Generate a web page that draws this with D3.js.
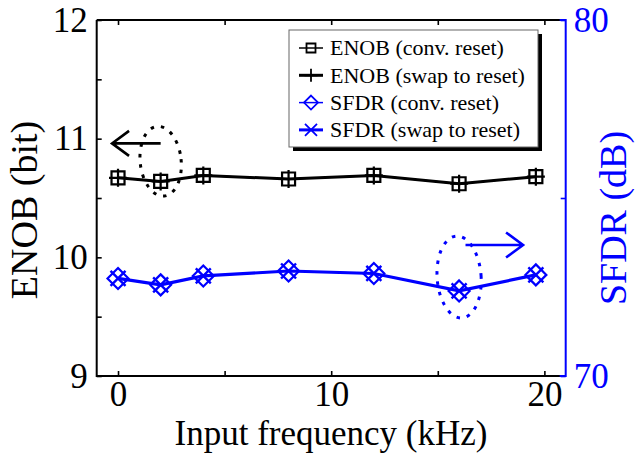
<!DOCTYPE html>
<html>
<head>
<meta charset="utf-8">
<script src="https://cdn.jsdelivr.net/npm/d3@7"></script>
<style>
  html, body { margin: 0; padding: 0; background: #fff; }
  svg { display: block; font-family: "Liberation Serif", "Times New Roman", serif; }
</style>
</head>
<body>
<svg id="chart" width="636" height="453"></svg>
<script>
// Input frequencies (kHz)
const freqs = [0, 2, 4, 8, 12, 16, 19.6];
// ENOB (bit), left axis
const enobConv = [10.67, 10.64, 10.69, 10.66, 10.69, 10.62, 10.68];
const enobSwap = [10.67, 10.64, 10.69, 10.66, 10.69, 10.62, 10.68];
// SFDR (dB), right axis
const sfdrConv = [72.74, 72.56, 72.81, 72.95, 72.88, 72.39, 72.84];
const sfdrSwap = [72.74, 72.56, 72.81, 72.95, 72.88, 72.39, 72.84];

const xTicks = [0, 5, 10, 15, 20];
const xTickLabels = [0, 10, 20];
const yLeftTicks = [9, 9.5, 10, 10.5, 11, 11.5, 12];
const yLeftTickLabels = [9, 10, 11, 12];
const yRightTicks = [70, 75, 80];
const yRightTickLabels = [70, 80];

const legendNames = ["ENOB (conv. reset)", "ENOB (swap to reset)", "SFDR (conv. reset)", "SFDR (swap to reset)"];

const BLUE = "#0000ff";
const svg = d3.select("#chart");

const L = 96.7, R = 565.7, T = 20, B = 376;
const x = d3.scaleLinear().domain([-1, 21]).range([L, R]);
const yL = d3.scaleLinear().domain([9, 12]).range([B, T]);
const yR = d3.scaleLinear().domain([70, 80]).range([B, T]);

const tickFont = 35;

function styleAxis(g, color) {
  g.selectAll(".tick line").attr("stroke", color).attr("stroke-width", 1.6);
  g.selectAll(".tick text").attr("fill", color).style("font-size", tickFont + "px")
    .style("font-family", '"Liberation Serif", serif');
  g.select(".domain").remove();
}

// Bottom axis
const gx = svg.append("g").attr("transform", `translate(0,${B})`)
  .call(d3.axisBottom(x).tickValues(xTicks).tickSizeInner(-5).tickSizeOuter(0).tickPadding(5)
    .tickFormat(d => xTickLabels.includes(d) ? d : ""));
styleAxis(gx, "#000");
// Top mirror ticks
const gxt = svg.append("g").attr("transform", `translate(0,${T})`)
  .call(d3.axisTop(x).tickValues(xTicks).tickSizeInner(-5).tickSizeOuter(0).tickFormat(""));
styleAxis(gxt, "#000");

// Left axis
const gyl = svg.append("g").attr("transform", `translate(${L},0)`)
  .call(d3.axisLeft(yL).tickValues(yLeftTicks).tickSizeInner(-5).tickSizeOuter(0).tickPadding(9)
    .tickFormat(d => yLeftTickLabels.includes(d) ? d : ""));
styleAxis(gyl, "#000");

// Right axis
const gyr = svg.append("g").attr("transform", `translate(${R},0)`)
  .call(d3.axisRight(yR).tickValues(yRightTicks).tickSizeInner(-5).tickSizeOuter(0).tickPadding(8)
    .tickFormat(d => yRightTickLabels.includes(d) ? d : ""));
styleAxis(gyr, BLUE);

// Frame
svg.append("path").attr("d", `M${L},${T}V${B}H${R}M${L},${T}H${R}`)
  .attr("fill", "none").attr("stroke", "#000").attr("stroke-width", 2);
svg.append("path").attr("d", `M${R - 6},${T}H${R}V${B}H${R - 6}`)
  .attr("fill", "none").attr("stroke", BLUE).attr("stroke-width", 2);

// Series lines
const lineL = d3.line().x((d, i) => x(freqs[i])).y(d => yL(d));
const lineR = d3.line().x((d, i) => x(freqs[i])).y(d => yR(d));

svg.append("path").datum(enobConv).attr("d", lineL).attr("fill", "none").attr("stroke", "#000").attr("stroke-width", 1.5);
svg.append("path").datum(enobSwap).attr("d", lineL).attr("fill", "none").attr("stroke", "#000").attr("stroke-width", 3);
svg.append("path").datum(sfdrConv).attr("d", lineR).attr("fill", "none").attr("stroke", BLUE).attr("stroke-width", 1.5);
svg.append("path").datum(sfdrSwap).attr("d", lineR).attr("fill", "none").attr("stroke", BLUE).attr("stroke-width", 3.2);

// Marker shapes
const square = s => `M${-s},${-s}H${s}V${s}H${-s}Z`;
const plus = s => `M${-s},0H${s}M0,${-s}V${s}`;
const diamond = s => `M0,${-s}L${s},0L0,${s}L${-s},0Z`;
const cross = s => `M${-s},${-s}L${s},${s}M${-s},${s}L${s},${-s}`;

function markers(data, yScale, shape, size, color, width) {
  svg.append("g").selectAll("path").data(data).join("path")
    .attr("transform", (d, i) => `translate(${x(freqs[i])},${yScale(d)})`)
    .attr("d", shape(size)).attr("fill", "none").attr("stroke", color).attr("stroke-width", width);
}
markers(enobConv, yL, square, 6.5, "#000", 2.2);
markers(enobSwap, yL, plus, 9, "#000", 2.2);
markers(sfdrConv, yR, diamond, 10.5, BLUE, 2.2);
markers(sfdrSwap, yR, cross, 7.5, BLUE, 2.4);

// Annotations: dotted ellipses and arrows pointing to each series' axis
function ellipse(cx, cy, rx, ry, angle, color) {
  svg.append("ellipse").attr("transform", `translate(${cx},${cy}) rotate(${angle})`)
    .attr("rx", rx).attr("ry", ry)
    .attr("fill", "none").attr("stroke", color).attr("stroke-width", 3).attr("stroke-dasharray", "3.5,7");
}
function arrow(x0, x1, yy, color) {
  const dir = Math.sign(x0 - x1);
  svg.append("path")
    .attr("d", `M${x0},${yy}H${x1}M${x1 + dir * 17},${yy - 12.5}L${x1},${yy}L${x1 + dir * 17},${yy + 12.5}`)
    .attr("fill", "none").attr("stroke", color).attr("stroke-width", 2.6);
}
ellipse(x(2), yL(10.81), 20.5, 35, -6, "#000");
arrow(x(2), x(-0.28), yL(10.96), "#000");
ellipse(x(16), yR(72.78), 22, 41, -4, BLUE);
arrow(x(16.3), x(19.0), yR(73.68), BLUE);

// Legend
const lg = svg.append("g").attr("transform", "translate(289,30)");
const LW = 249, LH = 117;
lg.append("rect").attr("x", 4).attr("y", 4).attr("width", LW).attr("height", LH).attr("fill", "#000");
lg.append("rect").attr("x", 0).attr("y", 0).attr("width", LW).attr("height", LH)
  .attr("fill", "#fff").attr("stroke", "#666").attr("stroke-width", 1);
const legendStyle = [
  { color: "#000", lw: 1.5, shape: square, size: 4.5 },
  { color: "#000", lw: 3, shape: plus, size: 6.5 },
  { color: BLUE, lw: 1.5, shape: diamond, size: 7 },
  { color: BLUE, lw: 3, shape: cross, size: 6 }
];
legendNames.forEach((name, i) => {
  const yy = 18 + i * 27.3;
  const st = legendStyle[i];
  lg.append("line").attr("x1", 10).attr("x2", 34).attr("y1", yy).attr("y2", yy)
    .attr("stroke", st.color).attr("stroke-width", st.lw);
  lg.append("path").attr("transform", `translate(22,${yy})`).attr("d", st.shape(st.size))
    .attr("fill", "none").attr("stroke", st.color).attr("stroke-width", 1.8);
  lg.append("text").attr("x", 41).attr("y", yy).attr("dy", "0.33em")
    .style("font-size", "22px").attr("fill", "#000").text(name);
});

// Axis titles
svg.append("text").attr("x", 331).attr("y", 445).attr("text-anchor", "middle")
  .style("font-size", "35px").attr("fill", "#000").text("Input frequency (kHz)");
svg.append("text").attr("transform", "translate(37,210) rotate(-90)").attr("text-anchor", "middle")
  .style("font-size", "38px").attr("fill", "#000").text("ENOB (bit)");
svg.append("text").attr("transform", "translate(626,218) rotate(-90)").attr("text-anchor", "middle")
  .style("font-size", "38px").attr("fill", BLUE).text("SFDR (dB)");
</script>
</body>
</html>
